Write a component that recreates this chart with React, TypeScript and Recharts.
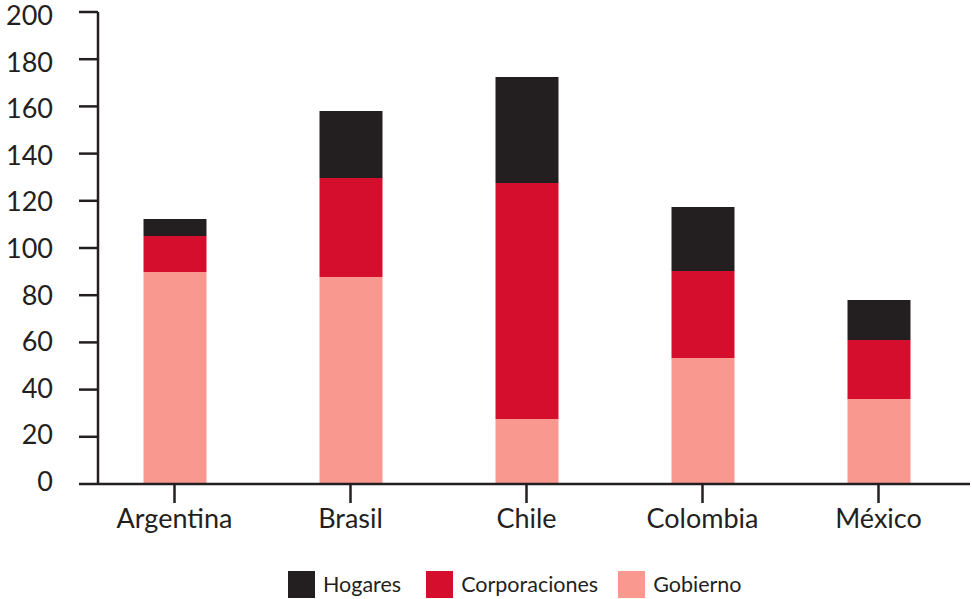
import React from "react";
import { BarChart, Bar, XAxis, YAxis } from "recharts";

// Countries on the horizontal axis
const countries = ["Argentina", "Brasil", "Chile", "Colombia", "México"];

// Stacked components per country
const gobierno = [89.8, 87.7, 27.5, 53.4, 36];
const corporaciones = [15.3, 42, 100, 36.9, 25];
const hogares = [7.2, 28.4, 45, 27.1, 17];

const yTicks = [0, 20, 40, 60, 80, 100, 120, 140, 160, 180, 200];

const COLORS = {
  hogares: "#231f20",
  corporaciones: "#d50e2d",
  gobierno: "#f8988f",
};

const legendItems = [
  { label: "Hogares", color: COLORS.hogares, gap: 25 },
  { label: "Corporaciones", color: COLORS.corporaciones, gap: 20 },
  { label: "Gobierno", color: COLORS.gobierno, gap: 0 },
];

const data = countries.map((country, i) => ({
  country,
  gobierno: gobierno[i],
  corporaciones: corporaciones[i],
  hogares: hogares[i],
}));

const FONT = "Lato, 'Noto Sans', sans-serif";
const INK = "#231f20";

// Value labels on the left axis, spread slightly wider than the tick marks
const YTick = (props: any) => {
  const { x, y, payload } = props;
  const shift = (payload.value / 200) * 6 - 2.5;
  return (
    <text
      x={x}
      y={y + shift}
      dy="0.355em"
      textAnchor="end"
      fill={INK}
      fontSize={27}
      fontFamily={FONT}
    >
      {payload.value}
    </text>
  );
};

const ChartLegend = () => (
  <div
    style={{
      position: "absolute",
      left: 288,
      top: 571,
      display: "flex",
      alignItems: "center",
      fontFamily: FONT,
      fontSize: 21.5,
      lineHeight: "27px",
      color: INK,
    }}
  >
    {legendItems.map((item) => (
      <div
        key={item.label}
        style={{ display: "flex", alignItems: "center", marginRight: item.gap }}
      >
        <div
          style={{ width: 27, height: 27, background: item.color, marginRight: 8 }}
        />
        <span>{item.label}</span>
      </div>
    ))}
  </div>
);

export default function App() {
  return (
    <div style={{ position: "absolute", left: 0, top: 0, width: 972, height: 599 }}>
      <BarChart
        width={972}
        height={599}
        data={data}
        margin={{ top: 12, right: 2, bottom: 55, left: 0 }}
      >
        <XAxis
          dataKey="country"
          height={60}
          padding={{ left: -11.5, right: 3.5 }}
          axisLine={{ stroke: INK, strokeWidth: 2.5 }}
          tickLine={{ stroke: INK, strokeWidth: 2.5 }}
          tickSize={19}
          tickMargin={6}
          tick={{ fill: INK, fontSize: 27, fontFamily: FONT }}
          interval={0}
        />
        <YAxis
          width={98}
          domain={[0, 200]}
          ticks={yTicks}
          interval={0}
          axisLine={{ stroke: INK, strokeWidth: 2.5 }}
          tickLine={{ stroke: INK, strokeWidth: 2.5 }}
          tickSize={19}
          tickMargin={26}
          tick={<YTick />}
        />
        <Bar dataKey="gobierno" stackId="a" fill={COLORS.gobierno} barSize={63} isAnimationActive={false} />
        <Bar dataKey="corporaciones" stackId="a" fill={COLORS.corporaciones} barSize={63} isAnimationActive={false} />
        <Bar dataKey="hogares" stackId="a" fill={COLORS.hogares} barSize={63} isAnimationActive={false} />
      </BarChart>
      <ChartLegend />
    </div>
  );
}
